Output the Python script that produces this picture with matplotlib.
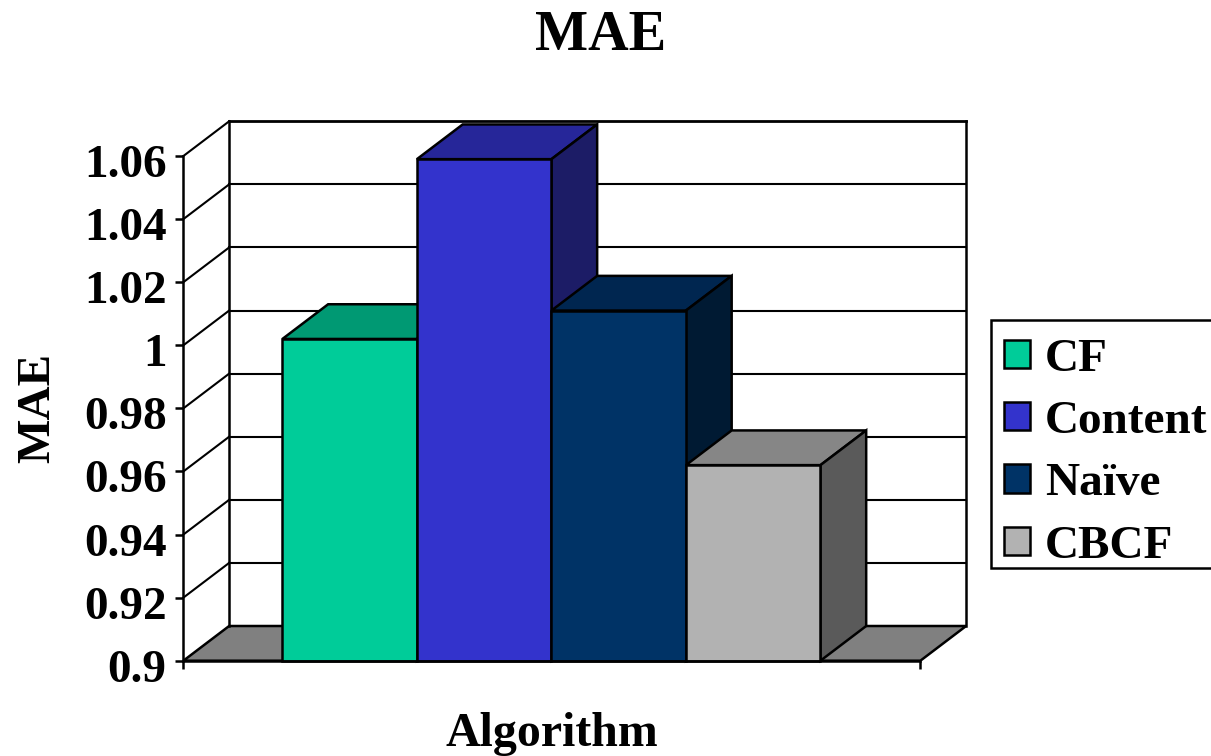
import matplotlib.pyplot as plt
from matplotlib.patches import Patch, Polygon, Rectangle
from matplotlib.transforms import ScaledTranslation

categories = ["CF", "Content", "Naïve", "CBCF"]
mae_values = [1.002, 1.059, 1.011, 0.962]
tick_values = [0.9, 0.92, 0.94, 0.96, 0.98, 1.0, 1.02, 1.04, 1.06]
tick_labels = ["0.9", "0.92", "0.94", "0.96", "0.98", "1", "1.02", "1.04", "1.06"]

front_colors = ["#00CC99", "#3333CC", "#003366", "#B2B2B2"]
top_colors = ["#009973", "#262699", "#002650", "#868686"]
side_colors = ["#006B50", "#1C1C66", "#001A33", "#5A5A5A"]

FIG_W, FIG_H = 1211, 756
Y_MIN, Y_MAX = 0.9, 1.06
X_MIN, X_MAX = -0.736, 4.743

# fake 3d depth, in data units
DEPTH_X = 0.34
DEPTH_Y = 0.0110
LW = 1.8

plt.rcParams["font.family"] = ["Liberation Serif", "DejaVu Serif"]
plt.rcParams["font.weight"] = "bold"

fig = plt.figure(figsize=(FIG_W / 100, FIG_H / 100), dpi=100)
ax = fig.add_axes([183.4 / FIG_W, (FIG_H - 660.7) / FIG_H, 737 / FIG_W, 504.7 / FIG_H])
ax.set_xlim(X_MIN, X_MAX)
ax.set_ylim(Y_MIN, Y_MAX)
ax.patch.set_visible(False)


def box_face(points, color, z):
    ax.add_patch(Polygon(points, closed=True, facecolor=color, edgecolor="black",
                         linewidth=LW, joinstyle="miter", clip_on=False, zorder=z))


def line(xs, ys, z=1, lw=LW):
    ax.plot(xs, ys, color="black", linewidth=lw, clip_on=False, zorder=z,
            solid_capstyle="projecting")


# floor
box_face([(X_MIN, Y_MIN), (X_MIN + DEPTH_X, Y_MIN + DEPTH_Y),
          (X_MAX + DEPTH_X, Y_MIN + DEPTH_Y), (X_MAX, Y_MIN)], "#808080", 1)

# back wall and grid
for t in tick_values[1:]:
    line([X_MIN, X_MIN + DEPTH_X], [t, t + DEPTH_Y], lw=1.5)
    if t != tick_values[-1]:
        line([X_MIN + DEPTH_X, X_MAX + DEPTH_X], [t + DEPTH_Y, t + DEPTH_Y], lw=1.5)
line([X_MIN + DEPTH_X, X_MAX + DEPTH_X], [Y_MAX + DEPTH_Y, Y_MAX + DEPTH_Y], lw=2)
line([X_MIN + DEPTH_X, X_MIN + DEPTH_X], [Y_MIN + DEPTH_Y, Y_MAX + DEPTH_Y])
line([X_MAX + DEPTH_X, X_MAX + DEPTH_X], [Y_MIN + DEPTH_Y, Y_MAX + DEPTH_Y])

# bars, left to right so each one covers the side of the previous
for i, value in enumerate(mae_values):
    z = 2 + i
    box_face([(i, value), (i + DEPTH_X, value + DEPTH_Y),
              (i + 1 + DEPTH_X, value + DEPTH_Y), (i + 1, value)], top_colors[i], z)
    box_face([(i + 1, Y_MIN), (i + 1 + DEPTH_X, Y_MIN + DEPTH_Y),
              (i + 1 + DEPTH_X, value + DEPTH_Y), (i + 1, value)], side_colors[i], z)
    ax.bar(i, value - Y_MIN, bottom=Y_MIN, width=1, align="edge", color=front_colors[i],
           edgecolor="black", linewidth=LW, clip_on=False, zorder=z)

for side in ["top", "right"]:
    ax.spines[side].set_visible(False)
for side in ["left", "bottom"]:
    ax.spines[side].set_linewidth(LW)
    ax.spines[side].set_zorder(10)

ax.set_xticks([X_MIN, X_MAX])
ax.set_xticklabels([])
ax.set_yticks(tick_values)
ax.set_yticklabels(tick_labels)
ax.tick_params(axis="x", length=6, width=LW)
ax.tick_params(axis="y", length=6, width=LW, pad=6, labelsize=34)

# tick labels sit a little below their ticks in the original
shift = ScaledTranslation(0, -5 / 100, fig.dpi_scale_trans)
for label in ax.get_yticklabels():
    label.set_transform(label.get_transform() + shift)

ax.set_xlabel("Algorithm", fontsize=34.5, fontweight="bold", va="center")
ax.xaxis.set_label_coords(552 / FIG_W, 1 - 734 / FIG_H, transform=fig.transFigure)
ax.set_ylabel("MAE", fontsize=34, fontweight="bold", va="center")
ax.yaxis.set_label_coords(38 / FIG_W, 1 - 408 / FIG_H, transform=fig.transFigure)
fig.text(601 / FIG_W, 1 - 36 / FIG_H, "MAE", fontsize=40.5, fontweight="bold",
         ha="center", va="center")

# legend frame is drawn apart, its box is tighter than legend padding allows
fig.add_artist(Rectangle((990.7 / FIG_W, 1 - 568 / FIG_H), 230 / FIG_W, 248 / FIG_H,
                         transform=fig.transFigure, facecolor="white", edgecolor="black",
                         linewidth=LW))
handles = [Patch(facecolor=c, edgecolor="black", linewidth=LW) for c in front_colors]
fig.legend(handles, categories, loc="upper left",
           bbox_to_anchor=(988.5 / FIG_W, 1 - 323 / FIG_H), borderaxespad=0,
           fontsize=34, frameon=False, borderpad=0.33, handlelength=0.55,
           handleheight=0.55, handletextpad=0.32, labelspacing=0.43)

fig.savefig("out.png", dpi=100)
